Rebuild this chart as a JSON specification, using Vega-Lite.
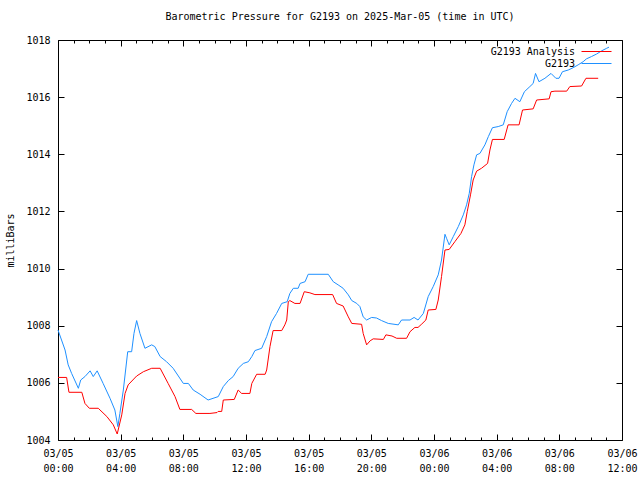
{
  "$schema": "https://vega.github.io/schema/vega-lite/v6.json",
  "width": 564,
  "height": 400,
  "autosize": "none",
  "padding": {"left": 58, "top": 40, "right": 18, "bottom": 40},
  "background": "white",
  "title": {
    "text": "Barometric Pressure for G2193 on 2025-Mar-05 (time in UTC)",
    "font": "DejaVu Sans Mono",
    "fontSize": 10,
    "fontWeight": "normal",
    "color": "black",
    "anchor": "middle",
    "offset": 13
  },
  "config": {
    "view": {"stroke": "black", "strokeWidth": 1},
    "axis": {
      "labelFont": "DejaVu Sans Mono",
      "labelFontSize": 10,
      "labelColor": "black",
      "titleFont": "DejaVu Sans Mono",
      "titleFontSize": 10,
      "titleFontWeight": "normal",
      "titleColor": "black",
      "tickColor": "black",
      "domain": false,
      "grid": false
    },
    "legend": {
      "labelFont": "DejaVu Sans Mono",
      "labelFontSize": 10,
      "labelColor": "black"
    }
  },
  "datasets": {
    "obs": [
      {"h": 0.00, "p": 1007.85}, {"h": 0.45, "p": 1007.15}, {"h": 0.65, "p": 1006.63}, {"h": 0.87, "p": 1006.33},
      {"h": 1.30, "p": 1005.81}, {"h": 1.45, "p": 1006.10}, {"h": 1.72, "p": 1006.22}, {"h": 2.05, "p": 1006.42},
      {"h": 2.25, "p": 1006.22}, {"h": 2.50, "p": 1006.42}, {"h": 2.88, "p": 1005.98}, {"h": 3.32, "p": 1005.46},
      {"h": 3.63, "p": 1005.05}, {"h": 3.82, "p": 1004.47}, {"h": 3.95, "p": 1004.93}, {"h": 4.17, "p": 1005.75},
      {"h": 4.45, "p": 1007.09}, {"h": 4.70, "p": 1007.09}, {"h": 4.85, "p": 1007.73}, {"h": 5.02, "p": 1008.18},
      {"h": 5.23, "p": 1007.73}, {"h": 5.55, "p": 1007.21}, {"h": 5.98, "p": 1007.33}, {"h": 6.18, "p": 1007.27},
      {"h": 6.52, "p": 1006.92}, {"h": 6.93, "p": 1006.74}, {"h": 7.35, "p": 1006.51}, {"h": 8.00, "p": 1005.98},
      {"h": 8.32, "p": 1005.98}, {"h": 8.63, "p": 1005.75}, {"h": 9.07, "p": 1005.60}, {"h": 9.58, "p": 1005.40},
      {"h": 10.23, "p": 1005.52}, {"h": 10.55, "p": 1005.87}, {"h": 10.87, "p": 1006.08}, {"h": 11.18, "p": 1006.22},
      {"h": 11.50, "p": 1006.51}, {"h": 11.83, "p": 1006.68}, {"h": 12.15, "p": 1006.74}, {"h": 12.37, "p": 1006.92},
      {"h": 12.57, "p": 1007.13}, {"h": 13.00, "p": 1007.21}, {"h": 13.32, "p": 1007.62}, {"h": 13.63, "p": 1008.14},
      {"h": 13.95, "p": 1008.43}, {"h": 14.28, "p": 1008.78}, {"h": 14.63, "p": 1008.84}, {"h": 14.80, "p": 1009.13},
      {"h": 15.02, "p": 1009.31}, {"h": 15.33, "p": 1009.31}, {"h": 15.45, "p": 1009.48}, {"h": 15.77, "p": 1009.54},
      {"h": 15.97, "p": 1009.80}, {"h": 17.25, "p": 1009.80}, {"h": 17.57, "p": 1009.54}, {"h": 17.88, "p": 1009.43},
      {"h": 18.20, "p": 1009.31}, {"h": 18.53, "p": 1009.08}, {"h": 18.75, "p": 1008.88}, {"h": 19.07, "p": 1008.78},
      {"h": 19.27, "p": 1008.67}, {"h": 19.48, "p": 1008.31}, {"h": 19.70, "p": 1008.20}, {"h": 20.02, "p": 1008.29},
      {"h": 20.33, "p": 1008.27}, {"h": 20.65, "p": 1008.18}, {"h": 21.08, "p": 1008.08}, {"h": 21.72, "p": 1008.03},
      {"h": 21.93, "p": 1008.20}, {"h": 22.47, "p": 1008.20}, {"h": 22.73, "p": 1008.29}, {"h": 22.98, "p": 1008.20},
      {"h": 23.32, "p": 1008.43}, {"h": 23.63, "p": 1009.02}, {"h": 23.95, "p": 1009.37}, {"h": 24.27, "p": 1009.78},
      {"h": 24.48, "p": 1010.30}, {"h": 24.70, "p": 1011.20}, {"h": 24.80, "p": 1011.06}, {"h": 24.97, "p": 1010.83},
      {"h": 25.23, "p": 1011.12}, {"h": 25.55, "p": 1011.47}, {"h": 25.87, "p": 1011.88}, {"h": 26.08, "p": 1012.23},
      {"h": 26.25, "p": 1012.63}, {"h": 26.40, "p": 1013.22}, {"h": 26.55, "p": 1013.63}, {"h": 26.72, "p": 1013.98},
      {"h": 26.93, "p": 1014.03}, {"h": 27.25, "p": 1014.33}, {"h": 27.47, "p": 1014.62}, {"h": 27.73, "p": 1014.93},
      {"h": 28.10, "p": 1014.97}, {"h": 28.42, "p": 1015.03}, {"h": 28.67, "p": 1015.49}, {"h": 28.95, "p": 1015.78},
      {"h": 29.17, "p": 1015.96}, {"h": 29.48, "p": 1015.84}, {"h": 29.77, "p": 1016.19}, {"h": 30.12, "p": 1016.37},
      {"h": 30.33, "p": 1016.48}, {"h": 30.48, "p": 1016.83}, {"h": 30.70, "p": 1016.54}, {"h": 31.08, "p": 1016.66},
      {"h": 31.47, "p": 1016.83}, {"h": 31.78, "p": 1016.66}, {"h": 31.98, "p": 1016.66}, {"h": 32.20, "p": 1016.89},
      {"h": 32.57, "p": 1016.95}, {"h": 32.88, "p": 1017.03}, {"h": 33.20, "p": 1017.13}, {"h": 33.52, "p": 1017.24},
      {"h": 33.73, "p": 1017.34}, {"h": 34.05, "p": 1017.42}, {"h": 34.38, "p": 1017.51}, {"h": 34.70, "p": 1017.62},
      {"h": 35.02, "p": 1017.71}, {"h": 35.17, "p": 1017.75}
    ],
    "analysis": [
      {"h": 0.00, "p": 1006.19}, {"h": 0.55, "p": 1006.19}, {"h": 0.70, "p": 1005.67}, {"h": 1.52, "p": 1005.67},
      {"h": 1.72, "p": 1005.28}, {"h": 2.00, "p": 1005.11}, {"h": 2.57, "p": 1005.11}, {"h": 3.12, "p": 1004.82},
      {"h": 3.53, "p": 1004.53}, {"h": 3.78, "p": 1004.21}, {"h": 4.07, "p": 1004.88}, {"h": 4.28, "p": 1005.63},
      {"h": 4.48, "p": 1005.93}, {"h": 5.02, "p": 1006.24}, {"h": 5.45, "p": 1006.39}, {"h": 5.98, "p": 1006.51},
      {"h": 6.52, "p": 1006.51}, {"h": 7.03, "p": 1005.98}, {"h": 7.47, "p": 1005.52}, {"h": 7.78, "p": 1005.07},
      {"h": 8.53, "p": 1005.07}, {"h": 8.80, "p": 1004.93}, {"h": 9.70, "p": 1004.93}, {"h": 10.15, "p": 1004.96},
      {"h": 10.22, "p": 1005.00}, {"h": 10.45, "p": 1005.00}, {"h": 10.55, "p": 1005.40}, {"h": 11.25, "p": 1005.42},
      {"h": 11.50, "p": 1005.75}, {"h": 11.72, "p": 1005.63}, {"h": 12.25, "p": 1005.63}, {"h": 12.37, "p": 1005.98},
      {"h": 12.68, "p": 1006.30}, {"h": 13.22, "p": 1006.30}, {"h": 13.32, "p": 1006.45}, {"h": 13.53, "p": 1007.27},
      {"h": 13.73, "p": 1007.83}, {"h": 14.28, "p": 1007.83}, {"h": 14.48, "p": 1008.03}, {"h": 14.60, "p": 1008.20},
      {"h": 14.70, "p": 1008.84}, {"h": 14.80, "p": 1008.88}, {"h": 15.12, "p": 1008.78}, {"h": 15.45, "p": 1008.78},
      {"h": 15.72, "p": 1009.19}, {"h": 16.08, "p": 1009.15}, {"h": 16.40, "p": 1009.09}, {"h": 17.53, "p": 1009.09},
      {"h": 17.78, "p": 1008.78}, {"h": 18.20, "p": 1008.69}, {"h": 18.53, "p": 1008.31}, {"h": 18.75, "p": 1008.08},
      {"h": 19.38, "p": 1008.05}, {"h": 19.48, "p": 1007.73}, {"h": 19.70, "p": 1007.33}, {"h": 19.92, "p": 1007.47},
      {"h": 20.12, "p": 1007.54}, {"h": 20.77, "p": 1007.52}, {"h": 20.93, "p": 1007.68}, {"h": 21.32, "p": 1007.64},
      {"h": 21.62, "p": 1007.56}, {"h": 22.25, "p": 1007.56}, {"h": 22.47, "p": 1007.79}, {"h": 22.78, "p": 1007.94},
      {"h": 22.98, "p": 1007.94}, {"h": 23.22, "p": 1008.06}, {"h": 23.48, "p": 1008.20}, {"h": 23.63, "p": 1008.55},
      {"h": 24.12, "p": 1008.57}, {"h": 24.27, "p": 1008.90}, {"h": 24.48, "p": 1009.72}, {"h": 24.70, "p": 1010.65},
      {"h": 24.97, "p": 1010.67}, {"h": 25.33, "p": 1010.94}, {"h": 25.72, "p": 1011.23}, {"h": 25.97, "p": 1011.53},
      {"h": 26.12, "p": 1011.99}, {"h": 26.33, "p": 1012.58}, {"h": 26.50, "p": 1013.10}, {"h": 26.72, "p": 1013.41},
      {"h": 27.03, "p": 1013.51}, {"h": 27.42, "p": 1013.68}, {"h": 27.57, "p": 1014.15}, {"h": 27.73, "p": 1014.52},
      {"h": 28.48, "p": 1014.52}, {"h": 28.73, "p": 1015.03}, {"h": 29.43, "p": 1015.03}, {"h": 29.65, "p": 1015.55},
      {"h": 30.33, "p": 1015.59}, {"h": 30.55, "p": 1015.90}, {"h": 31.35, "p": 1015.94}, {"h": 31.47, "p": 1016.19},
      {"h": 31.72, "p": 1016.21}, {"h": 32.47, "p": 1016.21}, {"h": 32.67, "p": 1016.37}, {"h": 33.42, "p": 1016.39},
      {"h": 33.70, "p": 1016.66}, {"h": 34.48, "p": 1016.66}
    ]
  },
  "layer": [
    {
      "data": {"name": "obs"},
      "transform": [{"calculate": "'G2193'", "as": "s"}],
      "mark": {"type": "line", "strokeWidth": 1},
      "encoding": {
        "x": {
          "field": "h", "type": "quantitative",
          "scale": {"domain": [0, 36], "nice": false, "zero": false},
          "axis": {
            "orient": "bottom",
            "title": null,
            "tickCount": 36,
            "labelExpr": "datum.value % 4 == 0 ? [datum.value < 24 ? '03/05' : '03/06', (datum.value % 24 < 10 ? '0' : '') + (datum.value % 24) + ':00'] : ''",
            "labelOverlap": false,
            "labelFlush": false,
            "labelBound": false,
            "labelAlign": "center",
            "labelBaseline": "top",
            "labelLineHeight": 15,
            "labelPadding": 14,
            "tickSize": {"condition": {"test": "datum.value % 4 == 0", "value": -6}, "value": -3}
          }
        },
        "y": {
          "field": "p", "type": "quantitative",
          "scale": {"domain": [1004, 1018], "nice": false, "zero": false},
          "axis": {
            "orient": "left",
            "title": "milliBars",
            "titlePadding": 10,
            "values": [1004, 1006, 1008, 1010, 1012, 1014, 1016, 1018],
            "format": "d",
            "labelPadding": 14,
            "tickSize": -6
          }
        },
        "color": {
          "field": "s", "type": "nominal",
          "scale": {"domain": ["G2193 Analysis", "G2193"], "range": ["#ff0000", "#1e90ff"]},
          "legend": {
            "title": null,
            "orient": "none",
            "legendX": 533,
            "legendY": 6,
            "padding": 0,
            "symbolType": "M-3,0H3",
            "symbolSize": 100,
            "labelAlign": "right",
            "labelBaseline": "middle",
            "labelOffset": -27,
            "rowPadding": 1,
            "encode": {
              "symbols": {"update": {"stroke": {"scale": "color", "field": "value"}, "fill": {"value": "transparent"}, "strokeWidth": {"value": 1}}}
            }
          }
        }
      }
    },
    {
      "data": {"name": "analysis"},
      "transform": [{"calculate": "'G2193 Analysis'", "as": "s"}],
      "mark": {"type": "line", "strokeWidth": 1},
      "encoding": {
        "x": {
          "field": "h", "type": "quantitative",
          "axis": {
            "orient": "top",
            "title": null,
            "labels": false,
            "tickCount": 36,
            "tickSize": {"condition": {"test": "datum.value % 4 == 0", "value": -6}, "value": -3}
          }
        },
        "y": {
          "field": "p", "type": "quantitative",
          "axis": {
            "orient": "right",
            "title": null,
            "labels": false,
            "values": [1004, 1006, 1008, 1010, 1012, 1014, 1016, 1018],
            "tickSize": -6
          }
        },
        "color": {"field": "s", "type": "nominal"}
      }
    }
  ],
  "resolve": {"axis": {"x": "independent", "y": "independent"}}
}
